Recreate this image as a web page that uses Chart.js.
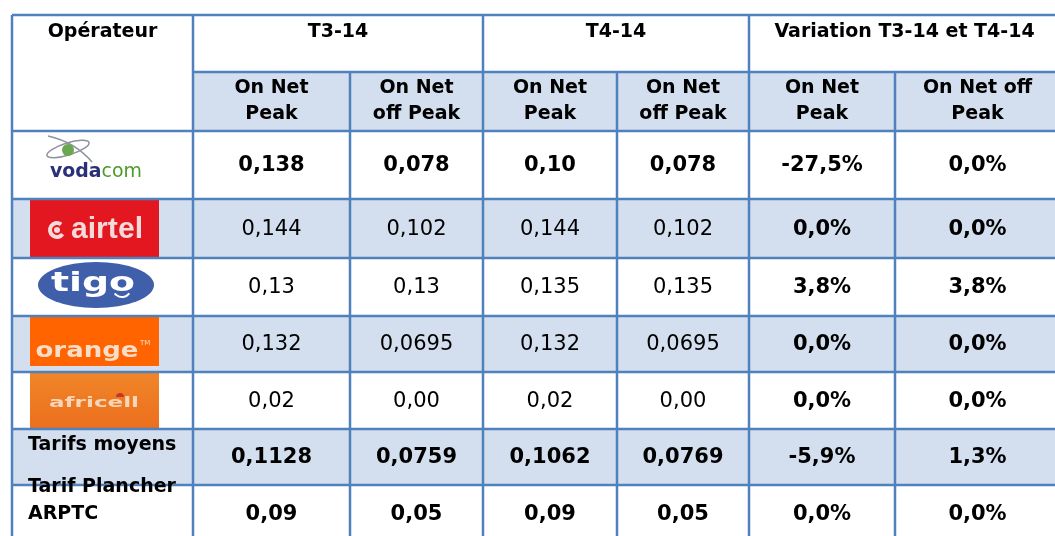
<!DOCTYPE html>
<html>
<head>
<meta charset="utf-8">
<script src="https://cdn.jsdelivr.net/npm/chart.js@4.4.0/dist/chart.umd.min.js"></script>
<style>
  body { margin: 0; background: #fff; }
  #wrap { width: 1055px; height: 536px; }
</style>
</head>
<body>
<div id="wrap"><canvas id="tarifTable" width="1055" height="536"></canvas></div>
<script>
// table content
const operators = ["vodacom", "airtel", "tigo", "orange", "africell"]
const summaryRows = ["Tarifs moyens", "Tarif Plancher\nARPTC"]
const cornerLabel = "Opérateur"
const periods = ["T3-14", "T4-14", "Variation T3-14 et T4-14"]
const subHeaders = ["On Net\nPeak", "On Net\noff Peak", "On Net\nPeak", "On Net\noff Peak", "On Net\nPeak", "On Net off\nPeak"]

const peakT3     = ["0,138", "0,144", "0,13", "0,132", "0,02", "0,1128", "0,09"]
const offPeakT3  = ["0,078", "0,102", "0,13", "0,0695", "0,00", "0,0759", "0,05"]
const peakT4     = ["0,10", "0,144", "0,135", "0,132", "0,02", "0,1062", "0,09"]
const offPeakT4  = ["0,078", "0,102", "0,135", "0,0695", "0,00", "0,0769", "0,05"]
const peakVar    = ["-27,5%", "0,0%", "3,8%", "0,0%", "0,0%", "-5,9%", "0,0%"]
const offPeakVar = ["0,0%", "0,0%", "3,8%", "0,0%", "0,0%", "1,3%", "0,0%"]

const columns = [peakT3, offPeakT3, peakT4, offPeakT4, peakVar, offPeakVar]
const boldRows = [0, 5, 6]        // vodacom + the two summary rows
const boldColumns = [4, 5]        // variation columns always bold

// layout (scale units), kept apart from the data
const colWidths = [181, 157, 133, 134, 132, 146, 165]
const rowHeights = [57, 59, 68, 59, 58, 56, 57, 56, 58]
const lightRows = [1, 3, 5, 7]
const borderColor = "#4F81BD"
const lightFill = "#D3DFEE"
const fontFamily = '"DejaVu Sans", Verdana, sans-serif'

function edges(sizes) {
    let out = [0]
    sizes.forEach(s => out.push(out[out.length - 1] + s))
    return out
}
const colEdges = edges(colWidths)
const rowEdges = edges(rowHeights)

function drawLines(ctx, text, x, y, lineH, align) {
    const lines = text.split("\n")
    ctx.textAlign = align
    ctx.textBaseline = "middle"
    const top = y - (lines.length - 1) * lineH / 2
    lines.forEach((l, i) => ctx.fillText(l, x, top + i * lineH))
}

function fitText(ctx, text, cx, cy, width) {
    const w = ctx.measureText(text).width
    ctx.save()
    ctx.translate(cx, cy)
    ctx.scale(width / w, 1)
    ctx.textAlign = "center"
    ctx.textBaseline = "middle"
    ctx.fillText(text, 0, 0)
    ctx.restore()
}

// --- logos, drawn inside their box ---
const logoDrawers = {
    vodacom(ctx, x, y, w, h) {
        ctx.strokeStyle = "#8d929c"
        ctx.lineWidth = 1.5
        ctx.beginPath()
        ctx.ellipse(x + 38, y + 17, 22, 6, -0.3, 0, Math.PI * 2)
        ctx.stroke()
        ctx.beginPath()
        ctx.moveTo(x + 18, y + 4)
        ctx.quadraticCurveTo(x + 45, y + 10, x + 62, y + 30)
        ctx.stroke()
        ctx.fillStyle = "#6aa84f"
        ctx.beginPath()
        ctx.arc(x + 38, y + 18, 6, 0, Math.PI * 2)
        ctx.fill()
        ctx.font = "bold 20px " + fontFamily
        const wv = ctx.measureText("voda").width
        ctx.font = "20px " + fontFamily
        const wc = ctx.measureText("com").width
        const k = 92 / (wv + wc)
        ctx.save()
        ctx.translate(x + 20, y + 40)
        ctx.scale(k, 1)
        ctx.textAlign = "left"
        ctx.textBaseline = "middle"
        ctx.font = "bold 20px " + fontFamily
        ctx.fillStyle = "#2a2f78"
        ctx.fillText("voda", 0, 0)
        ctx.font = "20px " + fontFamily
        ctx.fillStyle = "#4c9a2a"
        ctx.fillText("com", wv, 0)
        ctx.restore()
    },
    airtel(ctx, x, y, w, h) {
        ctx.fillStyle = "#E3171F"
        ctx.fillRect(x, y, w, h)
        ctx.strokeStyle = "#f4dada"
        ctx.lineWidth = 4
        ctx.beginPath()
        ctx.arc(x + 27, y + 30, 7, Math.PI * 0.2, Math.PI * 1.7)
        ctx.stroke()
        ctx.fillStyle = "#f4dada"
        ctx.beginPath()
        ctx.arc(x + 27, y + 30, 3, 0, Math.PI * 2)
        ctx.fill()
        ctx.font = "bold 29px 'Liberation Sans', sans-serif"
        fitText(ctx, "airtel", x + 77, y + 30, 72)
    },
    tigo(ctx, x, y, w, h) {
        ctx.fillStyle = "#3F5FAA"
        ctx.beginPath()
        ctx.ellipse(x + 66, y + 25, 58, 23, 0, 0, Math.PI * 2)
        ctx.fill()
        ctx.fillStyle = "#ffffff"
        ctx.font = "bold 27px " + fontFamily
        fitText(ctx, "tigo", x + 63, y + 24, 84)
        ctx.strokeStyle = "#ffffff"
        ctx.lineWidth = 2
        ctx.beginPath()
        ctx.arc(x + 92, y + 28, 9, Math.PI * 0.2, Math.PI * 0.8)
        ctx.stroke()
    },
    orange(ctx, x, y, w, h) {
        ctx.fillStyle = "#FF6400"
        ctx.fillRect(x, y, w, h)
        ctx.fillStyle = "#f8ddc8"
        ctx.font = "bold 21px " + fontFamily
        fitText(ctx, "orange", x + 57, y + 35, 103)
        ctx.font = "7px " + fontFamily
        ctx.fillText("TM", x + 110, y + 28)
    },
    africell(ctx, x, y, w, h) {
        const g = ctx.createLinearGradient(0, y, 0, y + h)
        g.addColorStop(0, "#F08528")
        g.addColorStop(1, "#EC6F1E")
        ctx.fillStyle = g
        ctx.fillRect(x, y, w, h)
        ctx.fillStyle = "#c7352a"
        ctx.beginPath()
        ctx.arc(x + 90, y + 24, 4, Math.PI, 0)
        ctx.fill()
        ctx.fillStyle = "#f7d6b8"
        ctx.font = "bold 14px " + fontFamily
        fitText(ctx, "africell", x + 64, y + 30, 90)
    }
}
const logoInsets = [[1, 7], [1, 1], [2, 1], [1, 6], [1, 1]]

const tablePlugin = {
    id: "tablePlugin",
    afterDraw(chart) {
        const ctx = chart.ctx
        const xs = chart.scales.x, ys = chart.scales.y
        const px = i => xs.getPixelForValue(colEdges[i])
        const py = j => ys.getPixelForValue(rowEdges[j])
        const nCols = colWidths.length, nRows = rowHeights.length
        ctx.save()

        // fills
        lightRows.forEach(r => {
            const c0 = r === 1 ? 1 : 0
            ctx.fillStyle = lightFill
            ctx.fillRect(px(c0), py(r), px(nCols) - px(c0), py(r + 1) - py(r))
        })

        // logos
        operators.forEach((op, i) => {
            const r = i + 2
            const x = px(0) + 18
            const y = py(r) + logoInsets[i][0]
            const h = py(r + 1) - logoInsets[i][1] - y
            logoDrawers[op](ctx, x, y, 129, h)
        })

        // borders
        ctx.strokeStyle = borderColor
        ctx.lineWidth = 2.5
        ctx.beginPath()
        for (let c = 0; c <= nCols; c++) {
            const startRow = (c === 2 || c === 4 || c === 6) ? 1 : 0
            ctx.moveTo(px(c), py(startRow))
            ctx.lineTo(px(c), py(nRows))
        }
        for (let r = 0; r <= nRows; r++) {
            const startCol = r === 1 ? 1 : 0
            ctx.moveTo(px(startCol), py(r))
            ctx.lineTo(px(nCols), py(r))
        }
        ctx.stroke()

        ctx.fillStyle = "#000"
        // header row 1
        ctx.font = "bold 19px " + fontFamily
        drawLines(ctx, cornerLabel, (px(0) + px(1)) / 2, py(0) + 17, 26, "center")
        periods.forEach((p, i) => {
            const cx = (px(1 + 2 * i) + px(3 + 2 * i)) / 2
            drawLines(ctx, p, cx, py(0) + 17, 26, "center")
        })
        // header row 2
        subHeaders.forEach((s, i) => {
            drawLines(ctx, s, (px(i + 1) + px(i + 2)) / 2, (py(1) + py(2)) / 2, 26, "center")
        })
        // summary labels
        summaryRows.forEach((s, i) => {
            drawLines(ctx, s, px(0) + 16, py(7 + i) + 16, 27, "left")
        })
        ctx.textAlign = "left"
        ctx.textBaseline = "alphabetic"
        // values
        columns.forEach((col, c) => {
            col.forEach((v, r) => {
                const bold = boldRows.includes(r) || boldColumns.includes(c)
                ctx.font = (bold ? "bold " : "") + "21px " + fontFamily
                drawLines(ctx, v, (px(c + 1) + px(c + 2)) / 2, (py(r + 2) + py(r + 3)) / 2 + 1, 26, "center")
            })
        })
        ctx.restore()
    }
}

new Chart(document.getElementById("tarifTable"), {
    type: "scatter",
    data: { datasets: [] },
    options: {
        responsive: false,
        animation: false,
        layout: { padding: { left: 12, top: 15, right: 0, bottom: 0 } },
        plugins: { legend: { display: false }, tooltip: { enabled: false } },
        scales: {
            x: { type: "linear", min: 0, max: 1043, display: false },
            y: { type: "linear", min: 0, max: 521, reverse: true, display: false }
        }
    },
    plugins: [tablePlugin]
})
</script>
</body>
</html>
